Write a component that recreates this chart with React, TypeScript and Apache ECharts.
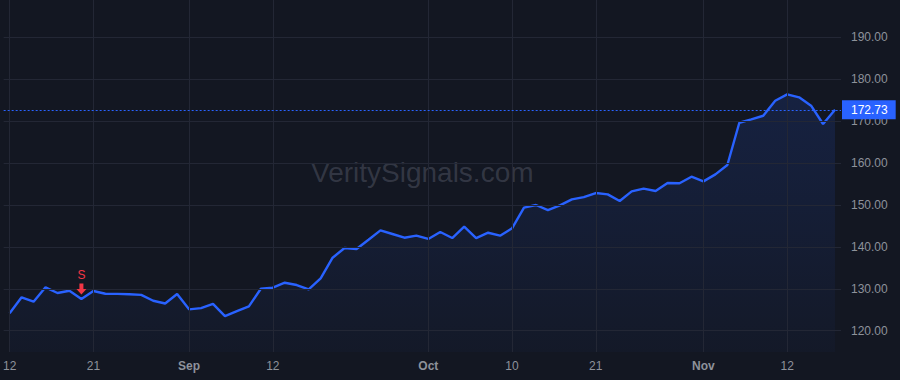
import React, { useEffect, useRef } from "react";
import * as echarts from "echarts";

const dates: string[] = [
  "2024-08-12","2024-08-13","2024-08-14","2024-08-15","2024-08-16","2024-08-19","2024-08-20","2024-08-21","2024-08-22","2024-08-23",
  "2024-08-26","2024-08-27","2024-08-28","2024-08-29","2024-08-30",
  "2024-09-03","2024-09-04","2024-09-05","2024-09-06","2024-09-09","2024-09-10","2024-09-11","2024-09-12","2024-09-13",
  "2024-09-16","2024-09-17","2024-09-18","2024-09-19","2024-09-20","2024-09-23","2024-09-24","2024-09-25","2024-09-26","2024-09-27","2024-09-30",
  "2024-10-01","2024-10-02","2024-10-03","2024-10-04","2024-10-07","2024-10-08","2024-10-09","2024-10-10","2024-10-11",
  "2024-10-14","2024-10-15","2024-10-16","2024-10-17","2024-10-18","2024-10-21","2024-10-22","2024-10-23","2024-10-24","2024-10-25",
  "2024-10-28","2024-10-29","2024-10-30","2024-10-31",
  "2024-11-01","2024-11-04","2024-11-05","2024-11-06","2024-11-07","2024-11-08","2024-11-11","2024-11-12","2024-11-13","2024-11-14","2024-11-15","2024-11-18",
];

const closes: number[] = [
  124.15, 127.97, 126.92, 130.36, 129.0, 129.55, 127.57, 129.47, 128.83, 128.8,
  128.7, 128.55, 127.16, 126.5, 128.76,
  125.1, 125.4, 126.4, 123.5, 124.7, 125.82, 130.02, 130.27, 131.46,
  130.9, 129.87, 132.5, 137.42, 139.74, 139.5, 141.72, 143.96, 143.08, 142.2, 142.7,
  141.9, 143.55, 142.12, 144.82, 142.12, 143.39, 142.68, 144.44, 149.36,
  150.0, 148.8, 149.92, 151.35, 151.9, 152.86, 152.55, 150.95, 153.25, 153.9,
  153.34, 155.25, 155.18, 156.76,
  155.65, 157.32, 159.55, 169.64, 170.45, 171.31, 174.9, 176.42, 175.7, 173.7, 169.33, 172.73,
];

const tickDates: string[] = ["2024-08-12","2024-08-21","2024-09-03","2024-09-12","2024-10-01","2024-10-10","2024-10-21","2024-11-01","2024-11-12"];
const tickLabels: string[] = ["12","21","Sep","12","Oct","10","21","Nov","12"];
const monthTicks: string[] = ["Sep","Oct","Nov"];

const yTicks: number[] = [120, 130, 140, 150, 160, 170, 180, 190];
const yMin = 114.92;
const yMax = 198.93;

const lastPrice = 172.73;
const signalDate = "2024-08-20";
const signalLabel = "S";
const watermark = "VeritySignals.com";

const BG = "#131722";
const GRID = "#232735";
const TEXT = "#8e929b";
const BLUE = "#2962FF";
const RED = "#F23645";
const FONT = "'Liberation Sans', Arial, sans-serif";

export default function App() {
  const ref = useRef<HTMLDivElement>(null);

  useEffect(() => {
    document.body.style.margin = "0";
    document.body.style.background = BG;
    const chart = echarts.init(ref.current!, null, { renderer: "svg" });
    const labelMap: Record<string, string> = {};
    tickDates.forEach((d, i) => (labelMap[d] = tickLabels[i]));
    const signalIdx = dates.indexOf(signalDate);

    const gridLines: any[] = [
      ...yTicks.map((v) => ({ yAxis: v })),
      ...tickDates.map((d) => ({ xAxis: d, label: { show: false } })),
    ];

    chart.setOption({
      animation: false,
      backgroundColor: BG,
      textStyle: { fontFamily: FONT },
      grid: { left: -1, right: 59, top: 0, bottom: 28, containLabel: false },
      graphic: [
        {
          type: "text",
          left: 421 - 110,
          top: 158,
          silent: true,
          z: 0,
          style: {
            text: watermark,
            font: `28px ${FONT}`,
            fill: "rgba(120,125,140,0.32)",
          },
        },
      ],
      xAxis: {
        type: "category",
        data: dates,
        boundaryGap: true,
        axisLine: { show: false },
        axisTick: { show: false },
        splitLine: { show: false },
        axisLabel: {
          interval: (_i: number, v: string) => v in labelMap,
          margin: 8,
          fontSize: 12,
          color: TEXT,
          formatter: (v: string) => {
            const t = labelMap[v] ?? "";
            return monthTicks.includes(t) ? `{m|${t}}` : t;
          },
          rich: { m: { fontWeight: "bold", fontSize: 12, color: TEXT, fontFamily: FONT } },
        },
      },
      yAxis: {
        type: "value",
        position: "right",
        min: yMin,
        max: yMax,
        axisLine: { show: false },
        axisTick: { show: false },
        axisLabel: { show: false },
        splitLine: { show: false },
      },
      series: [
        {
          type: "line",
          name: "grid",
          data: closes,
          showSymbol: false,
          silent: true,
          z: 1,
          lineStyle: { opacity: 0, width: 0 },
          markLine: {
            silent: true,
            symbol: ["none", "none"],
            animation: false,
            lineStyle: { color: GRID, type: "solid", width: 1 },
            label: {
              show: true,
              position: "end",
              distance: 10,
              color: TEXT,
              fontSize: 12,
              fontFamily: FONT,
              formatter: (p: any) => Number(p.value).toFixed(2),
            },
            emphasis: { disabled: true },
            data: gridLines,
          },
        },
        {
          type: "line",
          name: "close",
          data: closes,
          showSymbol: false,
          silent: true,
          z: 3,
          lineStyle: { color: BLUE, width: 2.4 },
          areaStyle: {
            origin: "start",
            color: new echarts.graphic.LinearGradient(0, 0, 0, 1, [
              { offset: 0, color: "rgba(41,98,255,0.2)" },
              { offset: 1, color: "rgba(41,98,255,0.04)" },
            ]),
          },
          markLine: {
            silent: true,
            symbol: ["none", "none"],
            animation: false,
            lineStyle: { color: BLUE, type: [2, 2], width: 1 },
            label: {
              show: true,
              position: "end",
              distance: 1,
              color: "#ffffff",
              backgroundColor: BLUE,
              padding: [4, 8, 3, 9],
              fontSize: 12,
              fontFamily: FONT,
              formatter: (p: any) => Number(p.value).toFixed(2),
            },
            emphasis: { disabled: true },
            data: [{ yAxis: lastPrice }],
          },
          markPoint: {
            silent: true,
            animation: false,
            symbol: "path://M3,0 L7,0 L7,5 L10,5 L5,10 L0,5 L3,5 Z",
            symbolSize: [10, 11],
            symbolOffset: [0, -10],
            itemStyle: { color: RED },
            label: {
              show: true,
              position: "top",
              distance: 2,
              color: RED,
              fontSize: 12,
              fontFamily: FONT,
              formatter: signalLabel,
            },
            data: [{ coord: [signalDate, closes[signalIdx]] }],
          },
        },
      ],
    });
    return () => chart.dispose();
  }, []);

  return (
    <div
      ref={ref}
      style={{ position: "fixed", left: 0, top: 0, width: 900, height: 380, background: BG }}
    />
  );
}
